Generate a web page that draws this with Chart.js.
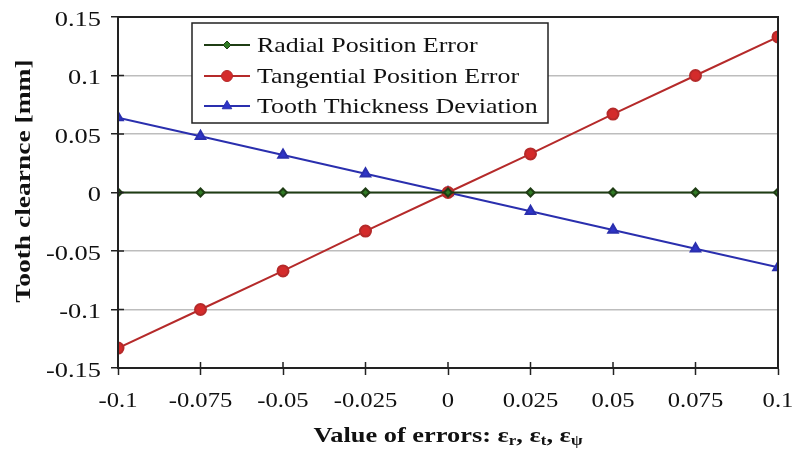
<!DOCTYPE html>
<html>
<head>
<meta charset="utf-8">
<script src="https://cdn.jsdelivr.net/npm/chart.js@4/dist/chart.umd.min.js"></script>
<style>
  html, body { margin: 0; padding: 0; background: #fff; }
</style>
</head>
<body>
<canvas id="myChart" width="794" height="454"></canvas>
<script>
// values
var xValues = [-0.1, -0.075, -0.05, -0.025, 0, 0.025, 0.05, 0.075, 0.1]
var radialError = [0, 0, 0, 0, 0, 0, 0, 0, 0]
var tangentialError = [-0.133, -0.1, -0.067, -0.033, 0, 0.033, 0.067, 0.1, 0.133]
var thicknessDeviation = [0.064, 0.048, 0.032, 0.016, 0, -0.016, -0.032, -0.048, -0.064]

var seriesNames = ['Radial Position Error', 'Tangential Position Error', 'Tooth Thickness Deviation']
var xTickLabels = ['-0.1', '-0.075', '-0.05', '-0.025', '0', '0.025', '0.05', '0.075', '0.1']
var yTickLabels = ['-0.15', '-0.1', '-0.05', '0', '0.05', '0.1', '0.15']
var yTickValues = [-0.15, -0.1, -0.05, 0, 0.05, 0.1, 0.15]
var yTitle = 'Tooth clearnce [mm]'

const SERIF = '"Liberation Serif", "Times New Roman", serif'
const STRETCH = 1.2 // the original lettering is wider than Times

function pts(ys) {
  return ys.map((y, i) => ({ x: xValues[i], y: y }))
}

// text drawn wider along its own direction
function wideText(c, text, x, y, align, font, sx) {
  c.save()
  c.font = font
  c.textBaseline = 'middle'
  c.textAlign = 'left'
  const w = c.measureText(text).width * sx
  let x0 = x
  if (align === 'center') x0 = x - w / 2
  if (align === 'right') x0 = x - w
  c.translate(x0, y)
  c.scale(sx, 1)
  c.fillText(text, 0, 0)
  c.restore()
  return w
}

// frame, tick labels, inner tick stubs, legend box and the axis titles
const extras = {
  id: 'extras',
  afterDatasetsDraw(chart) {
    const c = chart.ctx
    const a = chart.chartArea
    const xs = chart.scales.x, ys = chart.scales.y
    c.save()
    c.strokeStyle = '#222'
    c.lineWidth = 2
    c.strokeRect(a.left, a.top, a.right - a.left, a.bottom - a.top)
    c.lineWidth = 1.5
    c.beginPath()
    xValues.forEach(v => {
      const px = xs.getPixelForValue(v)
      c.moveTo(px, a.bottom); c.lineTo(px, a.bottom - 6)
    })
    yTickValues.forEach(v => {
      const py = ys.getPixelForValue(v)
      c.moveTo(a.left, py); c.lineTo(a.left + 6, py)
    })
    c.stroke()

    // tick labels
    c.fillStyle = '#111'
    const tickFont = '22px ' + SERIF
    xValues.forEach((v, i) => {
      wideText(c, xTickLabels[i], xs.getPixelForValue(v), a.bottom + 33, 'center', tickFont, 1.12)
    })
    yTickValues.forEach((v, i) => {
      wideText(c, yTickLabels[i], a.left - 17, ys.getPixelForValue(v) + 3, 'right', tickFont, STRETCH)
    })

    // legend
    const lx = 192, ly = 23, lw = 356, lh = 100
    c.fillStyle = '#fff'
    c.fillRect(lx, ly, lw, lh)
    c.strokeStyle = '#222'
    c.lineWidth = 1.5
    c.strokeRect(lx, ly, lw, lh)
    const rows = [45, 76, 106]
    chart.data.datasets.forEach((ds, i) => {
      const y = rows[i]
      c.strokeStyle = ds.borderColor
      c.lineWidth = 2
      c.beginPath(); c.moveTo(204, y); c.lineTo(250, y); c.stroke()
      c.fillStyle = ds.backgroundColor
      c.lineWidth = 1
      Chart.helpers.drawPoint(c, {
        pointStyle: ds.pointStyle, radius: ds.pointRadius, borderWidth: 1
      }, 227, y)
      c.fillStyle = '#111'
      wideText(c, seriesNames[i], 257, y + 1, 'left', '22px ' + SERIF, 1.18)
    })

    // x axis title: Value of errors: εr, εt, εψ
    c.fillStyle = '#111'
    const big = 'bold 22px ' + SERIF, small = 'bold 14px ' + SERIF
    const parts = [['Value of errors: ε', big, 0], ['r', small, 5], [', ε', big, 0], ['t', small, 5], [', ε', big, 0], ['ψ', small, 5]]
    let total = 0
    parts.forEach(p => { c.font = p[1]; total += c.measureText(p[0]).width * STRETCH })
    let x = (a.left + a.right) / 2 - total / 2
    parts.forEach(p => {
      x += wideText(c, p[0], x, 436 + p[2], 'left', p[1], STRETCH)
    })

    // y axis title
    c.save()
    c.translate(24, 181)
    c.rotate(-Math.PI / 2)
    wideText(c, yTitle, 0, 0, 'center', 'bold 22px ' + SERIF, 1.25)
    c.restore()
    c.restore()
  }
}

const ctx = document.getElementById('myChart')

var chart = new Chart(ctx, {
  type: 'line',
  data: {
    datasets: [{
      label: seriesNames[0],
      data: pts(radialError),
      borderColor: '#1f3d14',
      backgroundColor: '#2f7a24',
      pointStyle: 'rectRot',
      pointRadius: 4,
      borderWidth: 2
    }, {
      label: seriesNames[1],
      data: pts(tangentialError),
      borderColor: '#b52a2a',
      backgroundColor: '#d42b2b',
      pointStyle: 'circle',
      pointRadius: 5.5,
      borderWidth: 2
    }, {
      label: seriesNames[2],
      data: pts(thicknessDeviation),
      borderColor: '#2a2fae',
      backgroundColor: '#2f35c8',
      pointStyle: 'triangle',
      pointRadius: 5.5,
      borderWidth: 2
    }]
  },
  options: {
    responsive: false,
    animation: false,
    layout: { padding: { top: 17, right: 16, left: 0, bottom: 0 } },
    plugins: {
      legend: { display: false },
      tooltip: { enabled: false }
    },
    scales: {
      x: {
        type: 'linear',
        min: -0.1, max: 0.1,
        afterFit: s => { s.height = 86 },
        afterBuildTicks: s => { s.ticks = xValues.map(v => ({ value: v })) },
        grid: { drawOnChartArea: false, tickLength: 7, tickColor: '#222', tickWidth: 1.5 },
        border: { display: true, color: '#222', width: 2 },
        ticks: { display: false }
      },
      y: {
        min: -0.15, max: 0.15,
        afterFit: s => { s.width = 118 },
        afterBuildTicks: s => { s.ticks = yTickValues.map(v => ({ value: v })) },
        grid: { color: '#bdbdbd', lineWidth: 1.5, tickLength: 7, tickColor: '#222' },
        border: { display: true, color: '#222', width: 2 },
        ticks: { display: false }
      }
    }
  },
  plugins: [extras]
})
</script>
</body>
</html>
